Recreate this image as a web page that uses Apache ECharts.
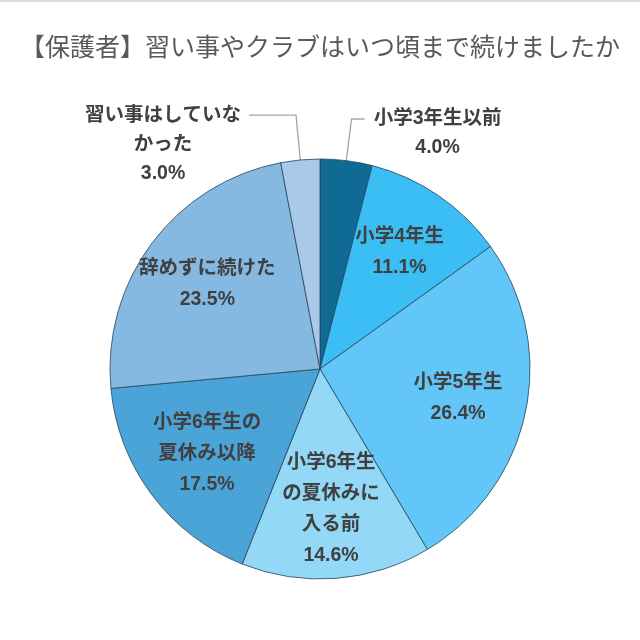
<!DOCTYPE html>
<html>
<head>
<meta charset="utf-8">
<script src="https://cdn.jsdelivr.net/npm/echarts@6/dist/echarts.min.js"></script>
<style>
  html, body { margin: 0; padding: 0; background: #fff; }
  body { border-top: 2px solid #d9d9d9; box-sizing: border-box; }
  #main { width: 640px; height: 638px; }
</style>
</head>
<body>
<div id="main"></div>
<script>
// 回答項目（表示用の改行入り）
var categories = ['小学3年生以前', '小学4年生', '小学5年生', '小学6年生\nの夏休みに\n入る前', '小学6年生の\n夏休み以降', '辞めずに続けた', '習い事はしていな\nかった'];
// 割合（%）
var values = [4.0, 11.1, 26.4, 14.6, 17.5, 23.5, 3.0];
var colors = ['#0f6b93', '#3bbef4', '#62c7f8', '#93d9f7', '#4ba4d8', '#85b9e2', '#a8c9e7'];
// 外側にラベルを出す項目
var outside = [true, false, false, false, false, false, true];

var font = "'Liberation Sans', 'Noto Sans CJK JP', sans-serif";

(function () {
  var myChart = echarts.init(document.getElementById('main'));

  // 扇形本体 + 外側ラベル
  var pieData = values.map(function (v, i) {
    var item = { value: v, name: categories[i], itemStyle: { color: colors[i] } };
    if (outside[i]) {
      var lines = categories[i].split('\n');
      lines.push(v.toFixed(1) + '%');
      item.label = {
        show: true,
        position: 'outside',
        formatter: lines.map(function (t) { return '{a|' + t + '}'; }).join('\n'),
        // 1行目を引き出し線の高さに合わせる
        padding: [(lines.length - 1) * 29, 0, 0, 0],
        rich: {
          a: {
            width: i === 0 ? 136 : 162,
            align: 'center',
            fontSize: 19.5,
            fontWeight: 'bold',
            fontFamily: font,
            color: '#404040',
            lineHeight: 29
          }
        }
      };
      item.labelLine = i === 0 ? { show: true, length: 42, length2: 13 } : { show: true, length: 45, length2: 47 };
    } else {
      item.label = { show: false };
      item.labelLine = { show: false };
    }
    return item;
  });

  // 内側ラベル用（透明）
  var labelData = values.map(function (v, i) {
    return {
      value: v,
      name: categories[i],
      label: { show: !outside[i] }
    };
  });

  var option = {
    animation: false,
    title: {
      text: '【保護者】習い事やクラブはいつ頃まで続けましたか',
      left: 'center',
      top: 27,
      textStyle: {
        fontSize: 25,
        fontWeight: 'normal',
        color: '#595959',
        fontFamily: "'Noto Sans CJK JP', sans-serif"
      }
    },
    series: [
      {
        type: 'pie',
        radius: [0, 210],
        center: [320, 367],
        startAngle: 90,
        clockwise: true,
        avoidLabelOverlap: false,
        itemStyle: { borderColor: '#27435c', borderWidth: 0.8 },
        labelLine: { lineStyle: { color: '#a6a6a6', width: 1.3 }, smooth: false },
        emphasis: { disabled: true },
        data: pieData
      },
      {
        type: 'pie',
        radius: [66, 210],
        center: [320, 367],
        startAngle: 90,
        clockwise: true,
        silent: true,
        avoidLabelOverlap: false,
        itemStyle: { color: 'rgba(0,0,0,0)', borderWidth: 0 },
        label: {
          position: 'inside',
          formatter: function (p) { return p.name + '\n' + p.value.toFixed(1) + '%'; },
          fontSize: 19.5,
          fontWeight: 'bold',
          fontFamily: font,
          color: '#404040',
          lineHeight: 31
        },
        labelLine: { show: false },
        emphasis: { disabled: true },
        data: labelData
      }
    ]
  };

  myChart.setOption(option);
})();
</script>
</body>
</html>
